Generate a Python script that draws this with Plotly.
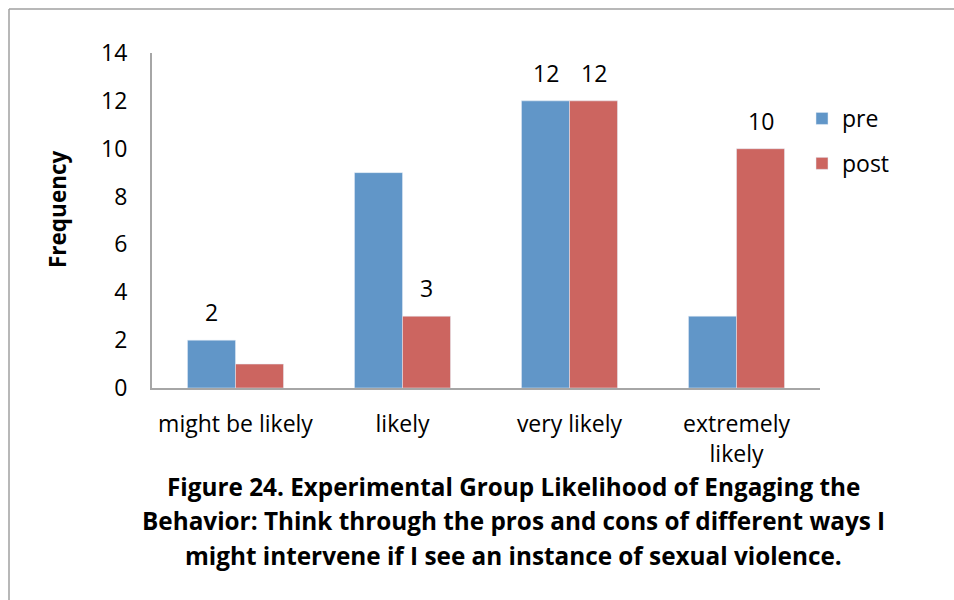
import plotly.graph_objects as go

categories = ["might be likely", "likely", "very likely", "extremely<br>likely"]
pre_values = [2, 9, 12, 3]
post_values = [1, 3, 12, 10]
# which bars carry a value label
pre_labeled = [True, False, True, False]
post_labeled = [False, True, True, True]

caption_lines = [
    "Figure 24. Experimental Group Likelihood of Engaging the",
    "Behavior: Think through the pros and cons of different ways I",
    "might intervene if I see an instance of sexual violence.",
]

FONT = "Open Sans, Calibri, Carlito, sans-serif"
BLUE = "#6196C8"
RED = "#CC6560"
AXIS_GRAY = "#A6A6A6"

W, H = 954, 600
L, R, T, B = 152, 134, 53, 212
PW, PH = W - L - R, H - T - B


def px_x(x):
    return (x - L) / PW


def px_y(y):
    return (H - B - y) / PH


fig = go.Figure()
fig.add_trace(go.Bar(x=categories, y=pre_values, name="pre", marker_color=BLUE,
                     legendgroup="pre"))
fig.add_trace(go.Bar(x=categories, y=post_values, name="post", marker_color=RED,
                     legendgroup="post"))

annotations = []
for cat, v, show in zip(categories, pre_values, pre_labeled):
    if show:
        annotations.append(dict(x=cat, y=v, xref="x", yref="y", text=str(v),
                                showarrow=False, xshift=-24, yshift=28,
                                font=dict(family=FONT, size=23, color="#000")))
for cat, v, show in zip(categories, post_values, post_labeled):
    if show:
        annotations.append(dict(x=cat, y=v, xref="x", yref="y", text=str(v),
                                showarrow=False, xshift=24, yshift=28,
                                font=dict(family=FONT, size=23, color="#000")))

# y-axis title
annotations.append(dict(x=px_x(57), y=px_y(209), xref="paper", yref="paper",
                        xanchor="center", yanchor="middle",
                        text="<b>Frequency</b>", textangle=-90, showarrow=False,
                        font=dict(family=FONT, size=22.5, color="#000")))

# caption below the chart
for i, line in enumerate(caption_lines):
    annotations.append(dict(x=px_x(513), y=px_y(486 + 34.5 * i), xref="paper", yref="paper",
                            text="<b>" + line + "</b>", showarrow=False,
                            xanchor="center", yanchor="middle",
                            font=dict(family=FONT, size=24.3, color="#000")))

shapes = [
    dict(type="line", xref="paper", yref="paper", x0=px_x(9), x1=px_x(W + 5),
         y0=px_y(9), y1=px_y(9), line=dict(color="#A0A0A0", width=1.5)),
    dict(type="line", xref="paper", yref="paper", x0=px_x(9), x1=px_x(9),
         y0=px_y(9), y1=px_y(H + 5), line=dict(color="#A0A0A0", width=1.5)),
]

fig.update_layout(
    width=W, height=H,
    margin=dict(l=L, r=R, t=T, b=B),
    paper_bgcolor="white", plot_bgcolor="white",
    barmode="group", bargap=0.425, bargroupgap=0,
    font=dict(family=FONT, size=23, color="#000"),
    showlegend=True,
    legend=dict(x=px_x(802), y=px_y(97), xanchor="left", yanchor="top",
                font=dict(family=FONT, size=23, color="#000"),
                tracegroupgap=12, itemwidth=30, bgcolor="rgba(0,0,0,0)"),
    annotations=annotations,
    shapes=shapes,
)
fig.update_xaxes(showline=True, linecolor=AXIS_GRAY, linewidth=2, ticks="",
                 showgrid=False, tickfont=dict(family=FONT, size=23, color="#000"),
                 ticklabelstandoff=14)
fig.update_yaxes(range=[0, 14], dtick=2, showline=True, linecolor=AXIS_GRAY, linewidth=2,
                 ticks="", showgrid=False, zeroline=False,
                 tickfont=dict(family=FONT, size=23, color="#000"),
                 ticklabelstandoff=18)

fig.write_html("out.html")
